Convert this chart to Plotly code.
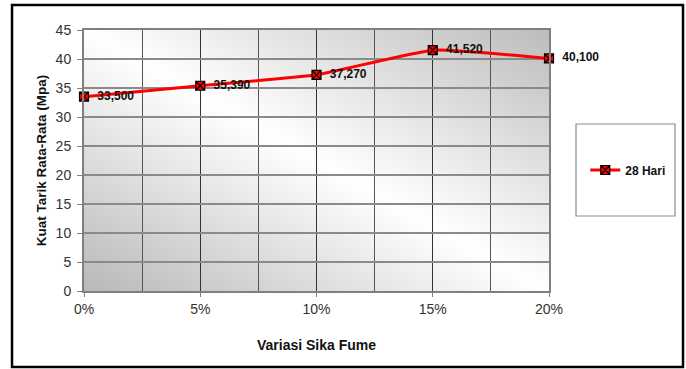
import base64
import plotly.graph_objects as go

# Data
kadar_sika_fume = [0, 5, 10, 15, 20]          # % variation
x_tick_labels = ["0%", "5%", "10%", "15%", "20%"]
kuat_tarik_28_hari = [33.5, 35.39, 37.27, 41.52, 40.1]
series_name = "28 Hari"
data_labels = [f"{v:.3f}".replace(".", ",") for v in kuat_tarik_28_hari]

# diagonal gradient background (style only)
svg = (
    '<svg xmlns="http://www.w3.org/2000/svg" width="465" height="261" preserveAspectRatio="none">'
    '<defs><linearGradient id="g" x1="0" y1="1" x2="1" y2="0">'
    '<stop offset="0" stop-color="#b8b8b8"/>'
    '<stop offset="0.5" stop-color="#ffffff"/>'
    '<stop offset="1" stop-color="#bcbcbc"/>'
    '</linearGradient></defs>'
    '<rect width="465" height="261" fill="url(#g)"/></svg>'
)
svg_uri = "data:image/svg+xml;base64," + base64.b64encode(svg.encode()).decode()

fig = go.Figure()
fig.add_trace(go.Scatter(
    x=kadar_sika_fume,
    y=kuat_tarik_28_hari,
    mode="lines+markers+text",
    name=series_name,
    line=dict(color="#ff0000", width=3, shape="spline", smoothing=0.4),
    marker=dict(symbol="square-x", size=9, color="#ff0000",
                line=dict(color="#000000", width=1.2)),
    text=[" " * 2 + t for t in data_labels],
    textposition="middle right",
    textfont=dict(family="Liberation Sans, Arial", size=12, color="#111111", weight="bold"),
    cliponaxis=False,
))

fig.update_layout(
    width=686, height=369,
    margin=dict(l=84, r=137, t=30, b=78),
    paper_bgcolor="white",
    plot_bgcolor="rgba(0,0,0,0)",
    font=dict(family="Liberation Sans, Arial", color="#222222"),
    showlegend=True,
    legend=dict(
        x=1.078, y=0.4636, xanchor="left", yanchor="middle",
        bgcolor="rgba(0,0,0,0)", borderwidth=0,
        font=dict(size=12, color="#111111", weight="bold"),
        itemwidth=30,
    ),
    xaxis=dict(
        range=[0, 20], tickvals=kadar_sika_fume, ticktext=x_tick_labels,
        showgrid=True, gridcolor="#333333", gridwidth=1,
        minor=dict(dtick=2.5, tick0=0, showgrid=True, gridcolor="#555555", gridwidth=1),
        zeroline=False, showline=True, linecolor="#808080", linewidth=2, mirror=True,
        ticks="outside", ticklen=4, tickcolor="#808080",
        tickfont=dict(size=14, color="#333333"),
        title=dict(text="Variasi Sika Fume", font=dict(size=14, color="#111111", weight="bold"),
                   standoff=24),
    ),
    yaxis=dict(
        range=[0, 45], dtick=5,
        showgrid=True, gridcolor="#8a8a8a", gridwidth=1.5,
        zeroline=False, showline=True, linecolor="#808080", linewidth=2, mirror=True,
        ticks="outside", ticklen=5, tickcolor="#808080", ticklabelstandoff=3,
        tickfont=dict(size=14, color="#333333"),
        title=dict(text="Kuat Tarik Rata-Rata (Mpa)",
                   font=dict(size=13.5, color="#111111", weight="bold"), standoff=6),
    ),
    images=[dict(source=svg_uri, xref="paper", yref="paper", x=0, y=1,
                 sizex=1, sizey=1, xanchor="left", yanchor="top",
                 sizing="stretch", layer="below")],
    shapes=[
        # outer frame
        dict(type="rect", xref="paper", yref="paper",
             x0=-0.1548, x1=1.2882, y0=-0.291, y1=1.0958,
             line=dict(color="black", width=2.5), fillcolor="rgba(0,0,0,0)", layer="above"),
        # legend box
        dict(type="rect", xref="paper", yref="paper",
             x0=1.0581, x1=1.2710, y0=0.2874, y1=0.6398,
             line=dict(color="#8c8c8c", width=1.2), fillcolor="white", layer="below"),
    ],
)

fig.write_html("out.html",
               config={"displayModeBar": False},
               post_script="document.body.style.margin='0px';document.body.style.overflow='hidden';")
